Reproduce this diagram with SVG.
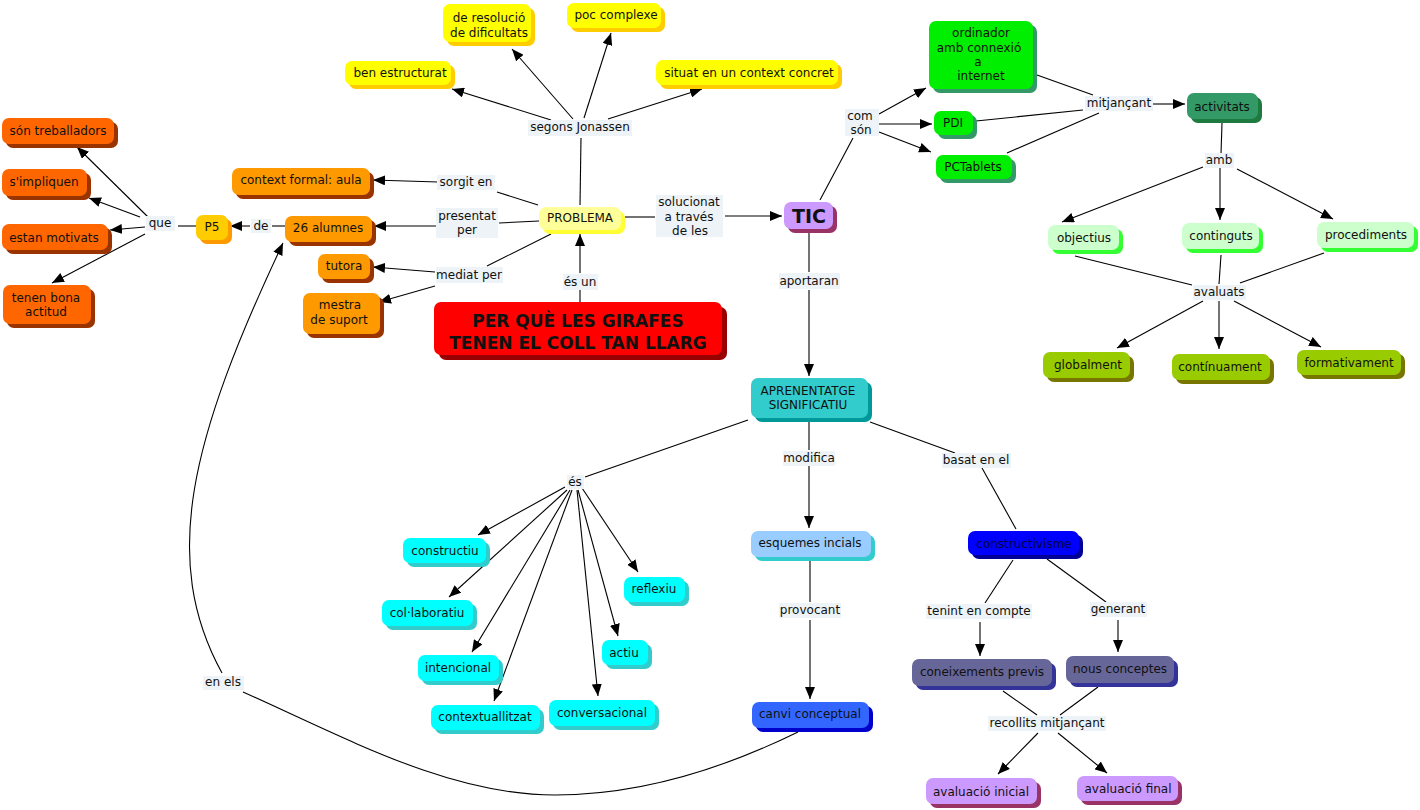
<svg xmlns="http://www.w3.org/2000/svg" width="1420" height="810" viewBox="0 0 1420 810">
<defs>
<marker id="ah" markerUnits="userSpaceOnUse" viewBox="0 0 12 10" markerWidth="12" markerHeight="10" refX="12" refY="5" orient="auto">
<path d="M0,0 L12,5 L0,10 z" fill="#000"/>
</marker>
<style>
text{font-family:"DejaVu Sans","Liberation Sans",sans-serif;font-size:12px;fill:#111;text-anchor:middle}
.lb{fill:#EDF3F6}
.c line,.c path{stroke:#000;stroke-width:1.1;fill:none}
.a{marker-end:url(#ah)}
.or .f{fill:#FF6600}.or .s{fill:#993300}
.p5 .f{fill:#FFCC00}.p5 .s{fill:#FF9900}
.o2 .f{fill:#FF9900}.o2 .s{fill:#993300}
.ye .f{fill:#FFFF00}.ye .s{fill:#FFCC00}
.pb .f{fill:#FFFF99}.pb .s{fill:#FFFF33}
.tic .f{fill:#CC99FF}.tic .s{fill:#993366}
.rd .f{fill:#FF0000}.rd .s{fill:#990000}
.gr .f{fill:#00EE00}.gr .s{fill:#339966}
.dg .f{fill:#339966}.dg .s{fill:#1E7A3E}
.pg .f{fill:#CCFFCC}.pg .s{fill:#33FF33}
.ol .f{fill:#99CC00}.ol .s{fill:#777700}
.te .f{fill:#33CCCC}.te .s{fill:#009999}
.cy .f{fill:#00FFFF}.cy .s{fill:#33CCCC}
.lbn .f{fill:#99CCFF}.lbn .s{fill:#33CCCC}
.rb .f{fill:#3366FF}.rb .s{fill:#0000CC}
.bl .f{fill:#0000FF}.bl .s{fill:#000099}
.sl .f{fill:#666699}.sl .s{fill:#333399}
.lv .f{fill:#CC99FF}.lv .s{fill:#993366}
.bold{font-weight:bold}
</style>
</defs>
<rect width="1420" height="810" fill="#fff"/>

<g id="connectors" class="c">
<!-- que -->
<line class="a" x1="149" y1="218" x2="77" y2="147"/>
<line class="a" x1="140" y1="217" x2="89" y2="198"/>
<line class="a" x1="145" y1="227" x2="110" y2="230"/>
<line class="a" x1="145" y1="234" x2="52" y2="283"/>
<line x1="178" y1="226" x2="196" y2="226"/>
<!-- de -->
<line x1="272" y1="226" x2="285" y2="226"/>
<line class="a" x1="250" y1="226" x2="230" y2="226"/>
<!-- sorgit en -->
<line x1="538" y1="205" x2="497" y2="192"/>
<line class="a" x1="438" y1="182" x2="373" y2="180"/>
<!-- presentat per -->
<line x1="539" y1="221" x2="499" y2="223"/>
<line class="a" x1="437" y1="226" x2="374" y2="226"/>
<!-- mediat per -->
<line x1="551" y1="234" x2="487" y2="266"/>
<line class="a" x1="435" y1="272" x2="373" y2="267"/>
<line class="a" x1="435" y1="286" x2="379" y2="302"/>
<!-- és un -->
<line x1="580" y1="302" x2="580" y2="290"/>
<line class="a" x1="580" y1="273" x2="580" y2="234"/>
<!-- segons Jonassen -->
<line x1="580" y1="205" x2="581" y2="138"/>
<line class="a" x1="551" y1="120" x2="452" y2="89"/>
<line class="a" x1="573" y1="119" x2="512" y2="49"/>
<line class="a" x1="584" y1="118" x2="611" y2="33"/>
<line class="a" x1="608" y1="119" x2="702" y2="89"/>
<!-- solucionat -->
<line x1="625" y1="217" x2="655" y2="217"/>
<line class="a" x1="725" y1="216" x2="782" y2="216"/>
<!-- com són -->
<line x1="820" y1="200" x2="853" y2="138"/>
<line class="a" x1="879" y1="114" x2="926" y2="88"/>
<line class="a" x1="879" y1="124" x2="932" y2="124"/>
<line class="a" x1="879" y1="132" x2="931" y2="152"/>
<!-- mitjançant -->
<line x1="1037" y1="75" x2="1093" y2="95"/>
<line x1="976" y1="121" x2="1083" y2="110"/>
<line x1="1007" y1="153" x2="1099" y2="113"/>
<line class="a" x1="1153" y1="104" x2="1185" y2="104"/>
<!-- amb -->
<line x1="1222" y1="123" x2="1221" y2="154"/>
<line class="a" x1="1203" y1="167" x2="1062" y2="222"/>
<line class="a" x1="1220" y1="168" x2="1220" y2="220"/>
<line class="a" x1="1237" y1="169" x2="1333" y2="219"/>
<!-- avaluats -->
<line x1="1075" y1="256" x2="1192" y2="285"/>
<line x1="1221" y1="255" x2="1219" y2="284"/>
<line x1="1324" y1="253" x2="1240" y2="283"/>
<line class="a" x1="1203" y1="301" x2="1117" y2="348"/>
<line class="a" x1="1219" y1="301" x2="1219" y2="349"/>
<line class="a" x1="1234" y1="301" x2="1321" y2="347"/>
<!-- aportaran -->
<line x1="809" y1="232" x2="809" y2="272"/>
<line class="a" x1="809" y1="290" x2="809" y2="376"/>
<!-- és -->
<line x1="748" y1="420" x2="585" y2="477"/>
<line class="a" x1="565" y1="487" x2="478" y2="535"/>
<line class="a" x1="567" y1="490" x2="449" y2="597"/>
<line class="a" x1="570" y1="490" x2="472" y2="652"/>
<line class="a" x1="572" y1="490" x2="494" y2="701"/>
<line class="a" x1="577" y1="490" x2="598" y2="696"/>
<line class="a" x1="578" y1="490" x2="618" y2="636"/>
<line class="a" x1="582" y1="488" x2="638" y2="572"/>
<!-- modifica / provocant -->
<line x1="809" y1="420" x2="809" y2="450"/>
<line class="a" x1="809" y1="466" x2="809" y2="528"/>
<line x1="810" y1="560" x2="810" y2="602"/>
<line class="a" x1="810" y1="620" x2="810" y2="699"/>
<!-- basat en el -->
<line x1="870" y1="422" x2="955" y2="453"/>
<line x1="982" y1="468" x2="1016" y2="529"/>
<!-- constructivisme -->
<line x1="1013" y1="560" x2="985" y2="603"/>
<line class="a" x1="980" y1="622" x2="980" y2="656"/>
<line x1="1047" y1="559" x2="1106" y2="602"/>
<line class="a" x1="1118" y1="620" x2="1118" y2="652"/>
<!-- recollits -->
<line x1="1003" y1="691" x2="1037" y2="715"/>
<line x1="1098" y1="687" x2="1060" y2="715"/>
<line class="a" x1="1038" y1="733" x2="998" y2="774"/>
<line class="a" x1="1058" y1="733" x2="1107" y2="773"/>
<!-- en els -->
<path d="M798,732 C700,780 620,795 555,795 C450,795 350,740 243,692"/>
<path class="a" d="M222,673 C160,560 190,440 283,243"/>
</g>

<g id="link-labels">
<rect class="lb" x="146" y="216" width="29" height="15"/><text x="160" y="227">que</text>
<rect class="lb" x="251" y="219" width="20" height="14"/><text x="261" y="230">de</text>
<rect class="lb" x="437" y="175" width="58" height="15"/><text x="466" y="186">sorgit en</text>
<rect class="lb" x="436" y="208" width="62" height="30"/><text x="467" y="220">presentat</text><text x="467" y="234">per</text>
<rect class="lb" x="436" y="267" width="67" height="16"/><text x="469" y="279">mediat per</text>
<rect class="lb" x="563" y="274" width="35" height="16"/><text x="580" y="286">és un</text>
<rect class="lb" x="528" y="120" width="104" height="16"/><text x="580" y="131">segons Jonassen</text>
<rect class="lb" x="656" y="195" width="67" height="42"/><text x="689" y="206">solucionat</text><text x="689" y="221">a través</text><text x="690" y="235">de les</text>
<rect class="lb" x="779" y="273" width="61" height="16"/><text x="809" y="285">aportaran</text>
<rect class="lb" x="845" y="109" width="34" height="27"/><text x="860" y="120">com</text><text x="861" y="134">són</text>
<rect class="lb" x="1085" y="96" width="68" height="15"/><text x="1119" y="107">mitjançant</text>
<rect class="lb" x="1205" y="153" width="29" height="15"/><text x="1219" y="164">amb</text>
<rect class="lb" x="1193" y="285" width="53" height="15"/><text x="1219" y="296">avaluats</text>
<rect class="lb" x="783" y="451" width="52" height="15"/><text x="809" y="462">modifica</text>
<rect class="lb" x="567" y="475" width="17" height="14"/><text x="575" y="486">és</text>
<rect class="lb" x="779" y="603" width="62" height="15"/><text x="810" y="614">provocant</text>
<rect class="lb" x="942" y="453" width="69" height="15"/><text x="976" y="464">basat en el</text>
<rect class="lb" x="926" y="604" width="106" height="15"/><text x="979" y="615">tenint en compte</text>
<rect class="lb" x="1090" y="602" width="57" height="15"/><text x="1118" y="613">generant</text>
<rect class="lb" x="988" y="716" width="118" height="15"/><text x="1047" y="727">recollits mitjançant</text>
<rect class="lb" x="203" y="676" width="41" height="14"/><text x="223" y="686">en els</text>
</g>

<g id="n-son-treballadors" class="or"><rect class="s" x="6" y="122" width="112" height="26" rx="7"/><rect class="f" x="2" y="118" width="112" height="26" rx="7"/><text x="58" y="135">són treballadors</text></g>
<g id="n-simpliquen" class="or"><rect class="s" x="6" y="173" width="85" height="27" rx="7"/><rect class="f" x="2" y="169" width="85" height="27" rx="7"/><text x="44" y="186">s'impliquen</text></g>
<g id="n-estan-motivats" class="or"><rect class="s" x="6" y="228" width="106" height="26" rx="7"/><rect class="f" x="2" y="224" width="106" height="26" rx="7"/><text x="54" y="242">estan motivats</text></g>
<g id="n-tenen-bona-actitud" class="or"><rect class="s" x="7" y="289" width="88" height="39" rx="7"/><rect class="f" x="3" y="285" width="88" height="39" rx="7"/><text x="46" y="302">tenen bona</text><text x="46" y="316">actitud</text></g>
<g id="n-p5" class="p5"><rect class="s" x="200" y="219" width="32" height="25" rx="7"/><rect class="f" x="196" y="215" width="32" height="25" rx="7"/><text x="212" y="231">P5</text></g>
<g id="n-26-alumnes" class="o2"><rect class="s" x="289" y="220" width="87" height="26" rx="7"/><rect class="f" x="285" y="216" width="87" height="26" rx="7"/><text x="328" y="232">26 alumnes</text></g>
<g id="n-context-formal" class="o2"><rect class="s" x="236" y="172" width="138" height="27" rx="7"/><rect class="f" x="232" y="168" width="138" height="27" rx="7"/><text x="301" y="184">context formal: aula</text></g>
<g id="n-tutora" class="o2"><rect class="s" x="322" y="258" width="52" height="25" rx="7"/><rect class="f" x="318" y="254" width="52" height="25" rx="7"/><text x="344" y="270">tutora</text></g>
<g id="n-mestra" class="o2"><rect class="s" x="307" y="297" width="77" height="41" rx="7"/><rect class="f" x="303" y="293" width="77" height="41" rx="7"/><text x="340" y="309">mestra</text><text x="339" y="324">de suport</text></g>

<g id="n-resolucio" class="ye"><rect class="s" x="447" y="8" width="88" height="38" rx="7"/><rect class="f" x="443" y="4" width="88" height="38" rx="7"/><text x="489" y="22">de resolució</text><text x="489" y="37">de dificultats</text></g>
<g id="n-poc-complexe" class="ye"><rect class="s" x="571" y="7" width="94" height="25" rx="7"/><rect class="f" x="567" y="3" width="94" height="25" rx="7"/><text x="616" y="19">poc complexe</text></g>
<g id="n-ben-estructurat" class="ye"><rect class="s" x="349" y="65" width="106" height="24" rx="7"/><rect class="f" x="345" y="61" width="106" height="24" rx="7"/><text x="400" y="77">ben estructurat</text></g>
<g id="n-situat" class="ye"><rect class="s" x="660" y="64" width="182" height="25" rx="7"/><rect class="f" x="656" y="60" width="182" height="25" rx="7"/><text x="749" y="77">situat en un context concret</text></g>

<g id="n-problema" class="pb"><rect class="s" x="543" y="211" width="82" height="23" rx="7"/><rect class="f" x="539" y="207" width="82" height="23" rx="7"/><text x="580" y="222">PROBLEMA</text></g>
<g id="n-girafes" class="rd"><rect class="s" x="439" y="307" width="288" height="53" rx="7"/><rect class="f" x="434" y="302" width="288" height="53" rx="7"/><text class="bold" x="578" y="327" style="font-size:17px">PER QUÈ LES GIRAFES</text><text class="bold" x="578" y="349" style="font-size:17px">TENEN EL COLL TAN LLARG</text></g>
<g id="n-tic" class="tic"><rect class="s" x="788" y="206" width="49" height="27" rx="7"/><rect class="f" x="784" y="202" width="49" height="27" rx="7"/><text class="bold" x="809" y="223" style="font-size:19px">TIC</text></g>

<g id="n-ordinador" class="gr"><rect class="s" x="933" y="25" width="104" height="68" rx="7"/><rect class="f" x="929" y="21" width="104" height="68" rx="7"/><text x="981" y="37">ordinador</text><text x="979" y="52">amb connexió</text><text x="978" y="66">a</text><text x="981" y="80">internet</text></g>
<g id="n-pdi" class="gr"><rect class="s" x="938" y="115" width="39" height="24" rx="7"/><rect class="f" x="934" y="111" width="39" height="24" rx="7"/><text x="953" y="127">PDI</text></g>
<g id="n-pctablets" class="gr"><rect class="s" x="940" y="159" width="76" height="24" rx="7"/><rect class="f" x="936" y="155" width="76" height="24" rx="7"/><text x="973" y="171">PCTablets</text></g>
<g id="n-activitats" class="dg"><rect class="s" x="1191" y="97" width="71" height="26" rx="7"/><rect class="f" x="1187" y="93" width="71" height="26" rx="7"/><text x="1222" y="111">activitats</text></g>
<g id="n-objectius" class="pg"><rect class="s" x="1052" y="229" width="71" height="25" rx="7"/><rect class="f" x="1048" y="225" width="71" height="25" rx="7"/><text x="1084" y="242">objectius</text></g>
<g id="n-continguts" class="pg"><rect class="s" x="1186" y="227" width="77" height="26" rx="7"/><rect class="f" x="1182" y="223" width="77" height="26" rx="7"/><text x="1221" y="240">continguts</text></g>
<g id="n-procediments" class="pg"><rect class="s" x="1321" y="226" width="97" height="26" rx="7"/><rect class="f" x="1317" y="222" width="97" height="26" rx="7"/><text x="1366" y="239">procediments</text></g>
<g id="n-globalment" class="ol"><rect class="s" x="1047" y="356" width="87" height="26" rx="7"/><rect class="f" x="1043" y="352" width="87" height="26" rx="7"/><text x="1088" y="369">globalment</text></g>
<g id="n-continuament" class="ol"><rect class="s" x="1176" y="358" width="98" height="26" rx="7"/><rect class="f" x="1172" y="354" width="98" height="26" rx="7"/><text x="1220" y="371">contínuament</text></g>
<g id="n-formativament" class="ol"><rect class="s" x="1301" y="354" width="104" height="25" rx="7"/><rect class="f" x="1297" y="350" width="104" height="25" rx="7"/><text x="1349" y="367">formativament</text></g>

<g id="n-aprenentatge" class="te"><rect class="s" x="755" y="382" width="117" height="40" rx="7"/><rect class="f" x="751" y="378" width="117" height="40" rx="7"/><text x="808" y="395">APRENENTATGE</text><text x="808" y="409">SIGNIFICATIU</text></g>
<g id="n-esquemes" class="lbn"><rect class="s" x="755" y="535" width="120" height="26" rx="7"/><rect class="f" x="751" y="531" width="120" height="26" rx="7"/><text x="810" y="547">esquemes incials</text></g>
<g id="n-canvi" class="rb"><rect class="s" x="756" y="706" width="117" height="26" rx="7"/><rect class="f" x="752" y="702" width="117" height="26" rx="7"/><text x="810" y="718">canvi conceptual</text></g>

<g id="n-constructiu" class="cy"><rect class="s" x="407" y="542" width="83" height="25" rx="7"/><rect class="f" x="403" y="538" width="83" height="25" rx="7"/><text x="445" y="555">constructiu</text></g>
<g id="n-collaboratiu" class="cy"><rect class="s" x="386" y="604" width="91" height="26" rx="7"/><rect class="f" x="382" y="600" width="91" height="26" rx="7"/><text x="427" y="617">col·laboratiu</text></g>
<g id="n-intencional" class="cy"><rect class="s" x="422" y="659" width="81" height="26" rx="7"/><rect class="f" x="418" y="655" width="81" height="26" rx="7"/><text x="458" y="672">intencional</text></g>
<g id="n-contextuallitzat" class="cy"><rect class="s" x="435" y="709" width="109" height="25" rx="7"/><rect class="f" x="431" y="705" width="109" height="25" rx="7"/><text x="485" y="721">contextuallitzat</text></g>
<g id="n-conversacional" class="cy"><rect class="s" x="553" y="704" width="106" height="26" rx="7"/><rect class="f" x="549" y="700" width="106" height="26" rx="7"/><text x="602" y="717">conversacional</text></g>
<g id="n-actiu" class="cy"><rect class="s" x="606" y="644" width="46" height="25" rx="7"/><rect class="f" x="602" y="640" width="46" height="25" rx="7"/><text x="624" y="657">actiu</text></g>
<g id="n-reflexiu" class="cy"><rect class="s" x="628" y="581" width="61" height="25" rx="7"/><rect class="f" x="624" y="577" width="61" height="25" rx="7"/><text x="654" y="593">reflexiu</text></g>

<g id="n-constructivisme" class="bl"><rect class="s" x="972" y="535" width="111" height="24" rx="7"/><rect class="f" x="968" y="531" width="111" height="24" rx="7"/><text x="1024" y="548" style="fill:#000044">constructivisme</text></g>
<g id="n-coneixements" class="sl"><rect class="s" x="916" y="663" width="140" height="27" rx="7"/><rect class="f" x="912" y="659" width="140" height="27" rx="7"/><text x="982" y="676">coneixements previs</text></g>
<g id="n-nous-conceptes" class="sl"><rect class="s" x="1070" y="660" width="108" height="27" rx="7"/><rect class="f" x="1066" y="656" width="108" height="27" rx="7"/><text x="1120" y="673">nous conceptes</text></g>
<g id="n-avaluacio-inicial" class="lv"><rect class="s" x="930" y="782" width="111" height="26" rx="7"/><rect class="f" x="926" y="778" width="111" height="26" rx="7"/><text x="981" y="796">avaluació inicial</text></g>
<g id="n-avaluacio-final" class="lv"><rect class="s" x="1081" y="780" width="101" height="25" rx="7"/><rect class="f" x="1077" y="776" width="101" height="25" rx="7"/><text x="1128" y="793">avaluació final</text></g>
</svg>
